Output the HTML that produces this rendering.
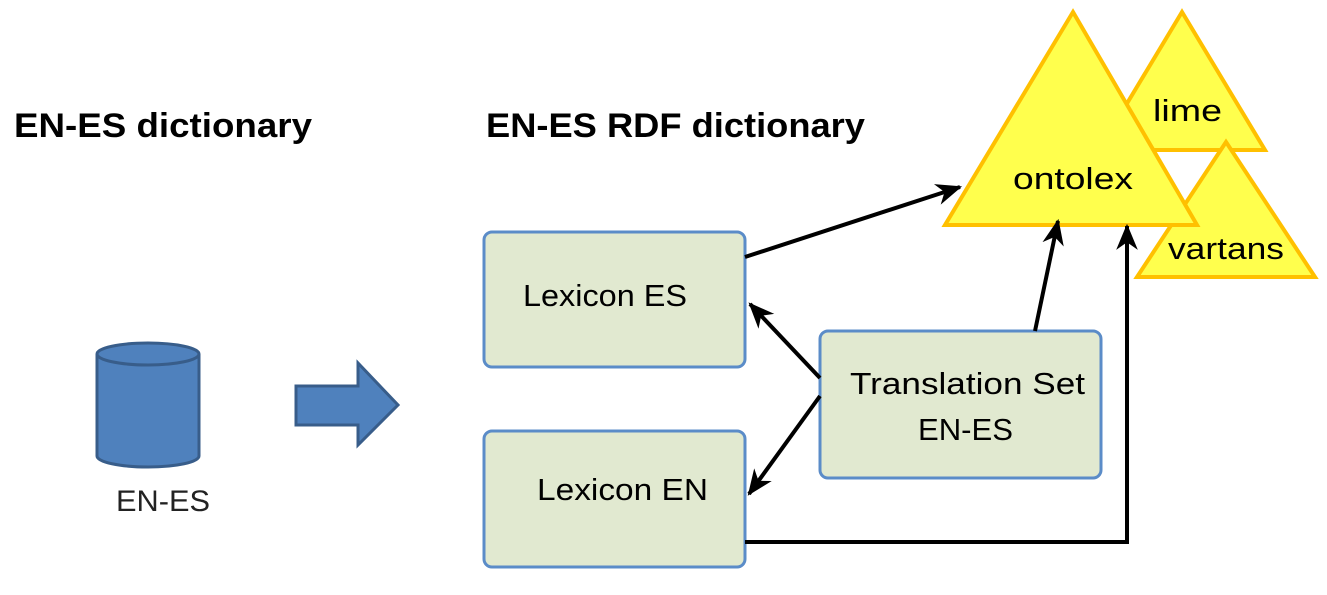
<!DOCTYPE html>
<html><head><style>
body{margin:0;background:#fff;width:1327px;height:590px;overflow:hidden}
svg text{font-family:"Liberation Sans",sans-serif}
</style></head><body>
<svg width="1327" height="590" viewBox="0 0 1327 590" xmlns="http://www.w3.org/2000/svg">
<defs>
<marker id="ah" viewBox="0 0 24 24" refX="22" refY="12" markerWidth="26" markerHeight="26" orient="auto" markerUnits="userSpaceOnUse"><path d="M0,2 L24,12 L0,22 L7,12 Z" fill="#000"/></marker></defs>
<text x="14" y="137" font-size="34" font-weight="bold" textLength="298" lengthAdjust="spacingAndGlyphs">EN-ES dictionary</text>
<text x="486" y="137" font-size="34" font-weight="bold" textLength="379" lengthAdjust="spacingAndGlyphs">EN-ES RDF dictionary</text>
<path d="M97,354 L97,456 A51,11 0 0 0 199,456 L199,354" fill="#4f81bd" stroke="#385d8a" stroke-width="3"/>
<ellipse cx="148" cy="354" rx="51" ry="11" fill="#4f81bd" stroke="#385d8a" stroke-width="3"/>
<text x="116" y="511" font-size="30" fill="#222" textLength="94" lengthAdjust="spacingAndGlyphs">EN-ES</text>
<path d="M296,386 L358,386 L358,363 L398,405 L358,445 L358,425 L296,425 Z" fill="#4f81bd" stroke="#385d8a" stroke-width="3"/>
<polygon points="1182,12 1265,150 1099,150" fill="#ffff4d" stroke="#ffc000" stroke-width="4"/>
<polygon points="1226,142 1315,277 1137,277" fill="#ffff4d" stroke="#ffc000" stroke-width="4"/>
<polygon points="1073,12 1197,225 945,225" fill="#ffff4d" stroke="#ffc000" stroke-width="4"/>
<text x="1153" y="121" font-size="31" textLength="69" lengthAdjust="spacingAndGlyphs">lime</text>
<text x="1013" y="189" font-size="31" textLength="120" lengthAdjust="spacingAndGlyphs">ontolex</text>
<text x="1168" y="259" font-size="31" textLength="116" lengthAdjust="spacingAndGlyphs">vartans</text>
<rect x="484" y="232" width="261" height="135" rx="8" fill="#e1e9d0" stroke="#5b8cc8" stroke-width="3"/>
<rect x="484" y="431" width="261" height="136" rx="8" fill="#e1e9d0" stroke="#5b8cc8" stroke-width="3"/>
<rect x="820" y="331" width="281" height="147" rx="8" fill="#e1e9d0" stroke="#5b8cc8" stroke-width="3"/>
<text x="523" y="306" font-size="31" textLength="164" lengthAdjust="spacingAndGlyphs">Lexicon ES</text>
<text x="537" y="500" font-size="31" textLength="171" lengthAdjust="spacingAndGlyphs">Lexicon EN</text>
<text x="850" y="394" font-size="31" textLength="235" lengthAdjust="spacingAndGlyphs">Translation Set</text>
<text x="918" y="440" font-size="31" textLength="95" lengthAdjust="spacingAndGlyphs">EN-ES</text>
<g stroke="#000" stroke-width="4" fill="none" marker-end="url(#ah)">
<line x1="745" y1="257" x2="960" y2="187"/>
<line x1="1035" y1="331" x2="1058" y2="221"/>
<line x1="820" y1="378" x2="750" y2="304"/>
<line x1="820" y1="396" x2="749" y2="494"/>
<path d="M745,542 L1127,542 L1127,226"/>
</g>
</svg>
</body></html>
